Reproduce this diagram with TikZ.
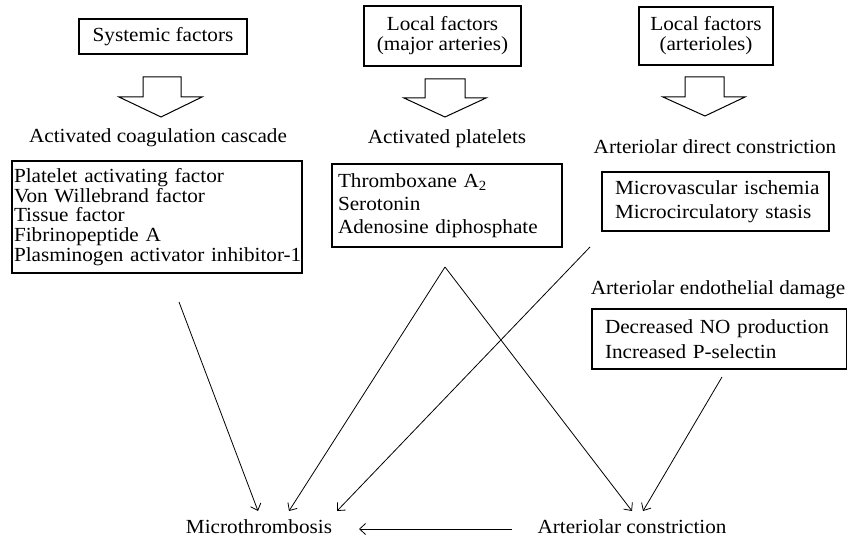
\documentclass[tikz,border=0pt]{standalone}
\usepackage{fontspec}
\setmainfont{Liberation Serif}[FakeStretch=1.06]
\usetikzlibrary{arrows.meta}
\begin{document}
\begin{tikzpicture}[x=1pt,y=-1pt,
  txt/.style={font=\fontsize{20}{20}\selectfont, inner sep=0pt},
  headbox/.style={draw, line width=1.1pt, font=\fontsize{20}{20}\selectfont, align=center, inner sep=0pt},
  listbox/.style={draw, line width=1.1pt, align=left, inner sep=0pt},
  hollow/.style={draw, line width=1pt, fill=white, line join=miter},
  conn/.style={line width=0.8pt, -{Straight Barb[length=6pt,width=11pt,line width=0.8pt]}},
  plain/.style={line width=0.8pt}]
\useasboundingbox (0,0) rectangle (847,543);

% header boxes
\node[headbox, minimum width=168, minimum height=35] (sys) at (163,36.5) {Systemic factors};
\node[headbox, minimum width=157, minimum height=60] (locM) at (442.5,36) {Local factors\\(major arteries)};
\node[headbox, minimum width=134, minimum height=58] (locA) at (706,36) {Local factors\\(arterioles)};

% hollow arrows
\draw[hollow] (143,77) -- (181,77) -- (181,97) -- (202,97) -- (161,117) -- (119,97) -- (143,97) -- cycle;
\draw[hollow] (425,79) -- (465,79) -- (465,98) -- (486,98) -- (445,117) -- (404,98) -- (425,98) -- cycle;
\draw[hollow] (685,77) -- (724,77) -- (724,97) -- (745,97) -- (705,116) -- (663,97) -- (685,97) -- cycle;

% stage labels
\node[txt] (coag) at (158,138) {Activated coagulation cascade};
\node[txt] (plat) at (447,139) {Activated platelets};
\node[txt] (adc) at (715,147) {Arteriolar direct constriction};
\node[txt] (aed) at (718,290) {Arteriolar endothelial damage};

% list boxes
\node[listbox, text width=290, minimum height=112,
      font=\fontsize{20}{19.8}\selectfont] (b1) at (157,217)
  {\hspace*{2pt}Platelet activating factor\\\hspace*{2pt}Von Willebrand factor\\\hspace*{2pt}Tissue factor\\\hspace*{2pt}Fibrinopeptide A\\\hspace*{2pt}Plasminogen activator inhibitor-1};
\node[listbox, text width=230, minimum height=83,
      font=\fontsize{20}{23}\selectfont] (b2) at (447,205.5)
  {\hspace*{6pt}Thromboxane A\textsubscript{2}\\\hspace*{6pt}Serotonin\\\hspace*{6pt}Adenosine diphosphate};
\node[listbox, text width=227, minimum height=59,
      font=\fontsize{20}{24}\selectfont] (b3) at (715.5,201.5)
  {\hspace*{13pt}Microvascular ischemia\\\hspace*{13pt}Microcirculatory stasis};
\node[listbox, text width=255, minimum height=60,
      font=\fontsize{20}{25}\selectfont] (b4) at (719.5,339)
  {\hspace*{13pt}Decreased NO production\\\hspace*{13pt}Increased P-selectin};

% outcomes
\node[txt] (micro) at (259,527) {Microthrombosis};
\node[txt] (arcon) at (632,527) {Arteriolar constriction};

% connector end points
\coordinate (s1) at (179,302);
\coordinate (apex) at (445,267);
\coordinate (s3) at (590,247);
\coordinate (s4) at (722,377);
\coordinate (t1) at (258,511);
\coordinate (t2) at (289,511);
\coordinate (t3) at (337,511);
\coordinate (t4) at (632,511);
\coordinate (t5) at (643,511);
\coordinate (h1) at (512,529);
\coordinate (h2) at (359,529);

\draw[conn] (s1) -- (t1);
\draw[conn] (apex) -- (t2);
\draw[conn] (apex) -- (t4);
\draw[conn] (s3) -- (t3);
\draw[conn] (s4) -- (t5);
\draw[conn] (h1) -- (h2);
\end{tikzpicture}
\end{document}
